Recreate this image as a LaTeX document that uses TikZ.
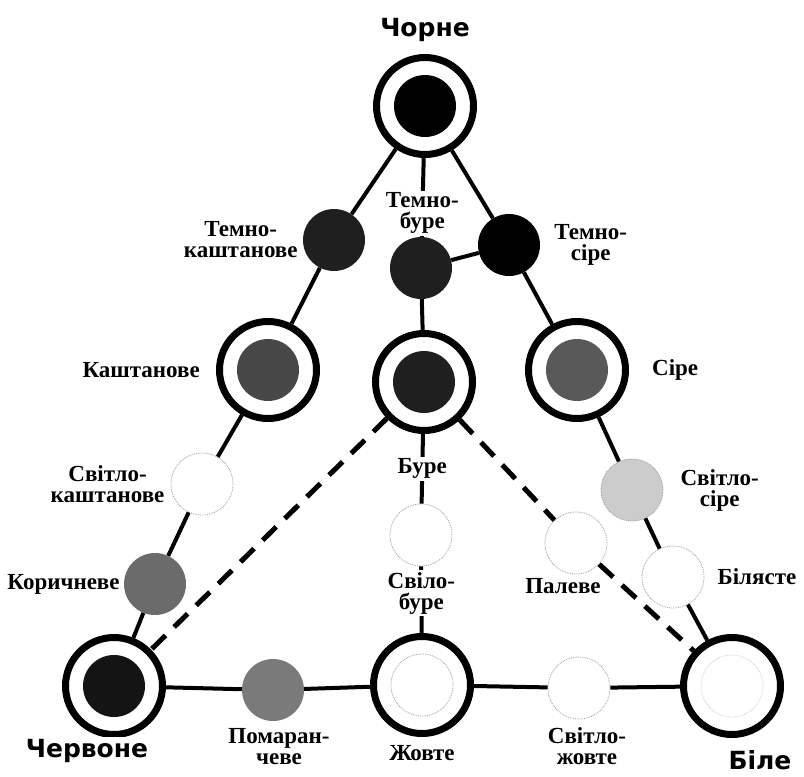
\documentclass[tikz,border=0pt]{standalone}
\usepackage{fontspec}
\usetikzlibrary{positioning}
\newfontfamily\labelserif{Liberation Serif}
\newfontfamily\labelheavy{DejaVu Sans}

\begin{document}
\begin{tikzpicture}[
    x=1pt, y=-1pt,
    ring/.style={circle, draw, line width=7pt, minimum size=97pt, inner sep=0pt, fill=white},
    core/.style={circle, minimum size=62pt, inner sep=0pt},
    pale/.style={core, draw=black!40, densely dotted, line width=0.8pt, fill=white},
    link/.style={line width=4pt},
    broken/.style={line width=5pt, dash pattern=on 19pt off 12pt},
    name label/.style={fill=white, inner sep=2pt, align=center,
        font=\labelserif\bfseries\fontsize{23}{21}\selectfont},
    main label/.style={fill=white, inner sep=2pt,
        font=\labelheavy\bfseries\fontsize{25}{25}\selectfont}
]
\useasboundingbox (0,0) rectangle (804,777);

% Rings
\node[ring] (chorne) at (425,106) {};
\node[ring] (kasht) at (268,370) {};
\node[ring] (bure) at (424,382) {};
\node[ring] (sire) at (577,370) {};
\node[ring] (cherv) at (114,686) {};
\node[ring] (zhovte) at (422,685) {};
\node[ring] (bile) at (732,686) {};

% Cores of the rings
\node[core, fill=black] at (chorne) {};
\node[core, fill=black!72] at (kasht) {};
\node[core, fill=black!88] at (bure) {};
\node[core, fill=black!65] at (sire) {};
\node[core, fill=black!92] at (cherv) {};
\node[pale] at (zhovte) {};
\node[pale, draw=black!20] at (bile) {};

% Small discs
\node[core, fill=black!88] (tk) at (334,240) {};
\node[core, fill=black!88] (tb) at (421,268) {};
\node[core, fill=black] (ts) at (509,245) {};
\node[pale] (sk) at (202,484) {};
\node[core, fill=black!58] (kor) at (155,584) {};
\node[core, fill=black!52] (pom) at (273,690) {};
\node[pale] (sb) at (421,535) {};
\node[pale] (pal) at (576,543) {};
\node[pale, fill=black!20] (ss) at (632,490) {};
\node[pale] (bl) at (673,577) {};
\node[pale] (szh) at (579,688) {};

% Edges
\draw[link] (chorne) -- (tk) -- (kasht) -- (sk) -- (kor) -- (cherv);
\draw[link] (chorne) -- (ts) -- (sire) -- (ss) -- (bl) -- (bile);
\draw[link] (tb) -- (ts);
\draw[link] (cherv) -- (pom) -- (zhovte) -- (szh) -- (bile);
\draw[link] (chorne) -- node[name label, pos=0.7] {Темно-\\буре} (tb)
    -- (bure) -- node[name label, midway] {Буре} (sb)
    -- node[name label, pos=0.4] {Свіло-\\буре} (zhovte);
\draw[broken] (bure) -- (cherv);
\draw[broken] (bure) -- (pal) -- (bile);

% Labels
\node[main label] at (425,30) {Чорне};
\node[main label] at (87,751) {Червоне};
\node[main label] at (760,760) {Біле};
\node[name label, left=3pt of tk] {Темно-\\каштанове};
\node[name label, right=12pt of ts] {Темно-\\сіре};
\node[name label, left=14pt of kasht] {Каштанове};
\node[name label, right=21pt of sire] {Сіре};
\node[name label, left=4pt of sk] {Світло-\\каштанове};
\node[name label, left=2pt of kor] {Коричневе};
\node[name label, right=15pt of ss] {Світло-\\сіре};
\node[name label, right=11pt of bl] {Білясте};
\node[name label, below=2pt of pal, xshift=-13pt] {Палеве};
\node[name label, below=5pt of pom, xshift=6pt] {Помаран-\\чеве};
\node[name label, below=6pt of zhovte] {Жовте};
\node[name label, below=6pt of szh, xshift=8pt] {Світло-\\жовте};

\end{tikzpicture}
\end{document}
